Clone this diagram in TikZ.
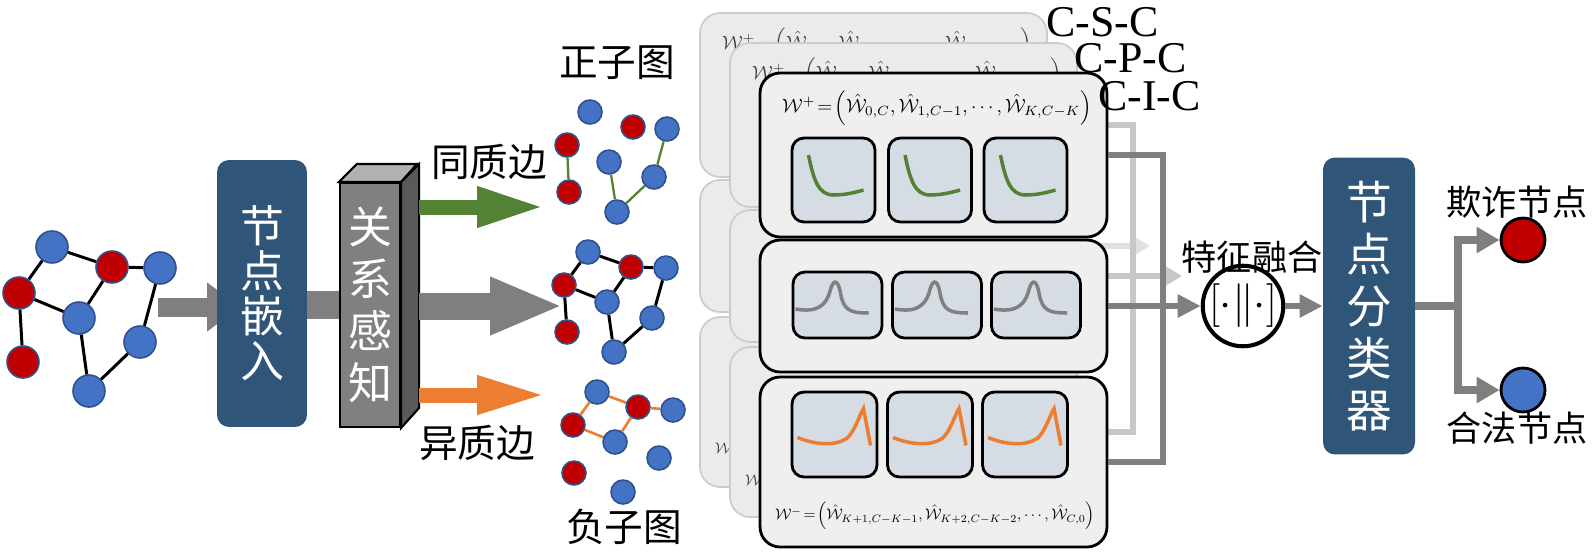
\documentclass[tikz,border=0pt]{standalone}
\usepackage{fontspec}
\usepackage{graphicx}
\usepackage{tikz}
\usetikzlibrary{arrows.meta,positioning,calc}
\usepackage{xcolor}

\newfontfamily\cjk{Noto Sans CJK SC}
\newfontfamily\tnr{Liberation Serif}

\definecolor{nodeblue}{HTML}{4472C4}
\definecolor{nodered}{HTML}{C00000}
\definecolor{rimblue}{HTML}{2F528F}
\definecolor{boxblue}{HTML}{2F5579}
\definecolor{arrgray}{HTML}{7F7F7F}
\definecolor{homgreen}{HTML}{548235}
\definecolor{hetorange}{HTML}{ED7D31}
\definecolor{panelgray}{HTML}{EFEFEF}
\definecolor{cellblue}{HTML}{D6DCE4}

\newcommand\homeq{\resizebox{6.2cm}{!}{$\mathcal{W}^{+}\!=\!\Big(\hat{\mathcal{W}}_{0,C},\hat{\mathcal{W}}_{1,C-1},\cdots,\hat{\mathcal{W}}_{K,C-K}\Big)$}}
\newcommand\heteq{\resizebox{6.4cm}{!}{$\mathcal{W}^{-}\!=\!\Big(\hat{\mathcal{W}}_{K+1,C-K-1},\hat{\mathcal{W}}_{K+2,C-K-2},\cdots,\hat{\mathcal{W}}_{C,0}\Big)$}}

\tikzset{
  bnode/.style={circle, draw=rimblue, line width=0.9pt, fill=nodeblue, inner sep=0pt, minimum size=0.48cm},
  rnode/.style={bnode, fill=nodered},
  bignode/.style={minimum size=0.64cm},
  gedge/.style={line width=1.7pt},
  posedge/.style={homgreen, line width=1.3pt},
  negedge/.style={hetorange, line width=1.5pt},
  bluebox/.style={rounded corners=0.24cm, fill=boxblue, text=white, align=center, inner sep=0pt},
  panel/.style={draw, line width=1.6pt, rounded corners=0.4cm, fill=panelgray, minimum width=6.94cm},
  backpanel/.style={draw=black!20, line width=1pt, rounded corners=0.4cm, fill=black!8, minimum width=6.94cm},
  cell/.style={draw, line width=1.6pt, rounded corners=0.24cm, fill=cellblue},
  homcell/.style={cell, minimum width=1.66cm, minimum height=1.68cm},
  mixcell/.style={cell, minimum width=1.78cm, minimum height=1.32cm},
  hetcell/.style={cell, minimum width=1.7cm, minimum height=1.7cm},
  homcurve/.style={homgreen, line width=2pt},
  mixcurve/.style={black!50, line width=2pt},
  hetcurve/.style={hetorange, line width=2pt},
  cjklab/.style={font=\cjk\fontsize{22}{22}\selectfont},
  smalllab/.style={font=\cjk\fontsize{20}{20}\selectfont},
  darkline/.style={arrgray, line width=0.13cm},
  darkarrow/.style={darkline, -{Triangle[length=0.46cm, width=0.44cm]}},
  lightline/.style={black!22, line width=0.13cm},
  lightarrow/.style={lightline, -{Triangle[length=0.36cm, width=0.4cm]}},
  outline/.style={arrgray, line width=0.16cm},
  outarrow/.style={outline, -{Triangle[length=0.46cm, width=0.5cm]}}
}

\begin{document}
\begin{tikzpicture}[x=0.02cm, y=-0.02cm, >=Stealth, font=\cjk]
  \useasboundingbox (0,0) rectangle (1594,555);

  % input graph
  \node (in1) [bnode, bignode] at (52,247) {};
  \node (in2) [rnode, bignode] at (112,267) {};
  \node (in3) [bnode, bignode] at (160,268) {};
  \node (in4) [rnode, bignode] at (19,293) {};
  \node (in5) [bnode, bignode] at (79,318) {};
  \node (in6) [bnode, bignode] at (140,342) {};
  \node (in7) [rnode, bignode] at (23,362) {};
  \node (in8) [bnode, bignode] at (89,391) {};
  \draw[gedge] (in1) -- (in2);
  \draw[gedge] (in1) -- (in4);
  \draw[gedge] (in2) -- (in3);
  \draw[gedge] (in2) -- (in5);
  \draw[gedge] (in4) -- (in5);
  \draw[gedge] (in4) -- (in7);
  \draw[gedge] (in5) -- (in8);
  \draw[gedge] (in8) -- (in6);
  \draw[gedge] (in6) -- (in3);

  % embedding and relation blocks
  \coordinate (gout) at (158,307);
  \coordinate (embtip) at (240,307);
  \draw[arrgray, line width=0.38cm, -{Triangle[length=0.66cm, width=0.94cm]}] (gout) -- (embtip);
  \node (embed) [bluebox, minimum width=1.8cm, minimum height=5.34cm, font=\cjk\fontsize{25}{25.6}\selectfont] at (262,293.5) {节\\点\\嵌\\入};
  \node (rel) [draw, line width=1.2pt, fill=black!50, text=white, align=center, inner sep=0pt, minimum width=1.2cm, minimum height=4.88cm, font=\cjk\fontsize{25}{29.6}\selectfont] at (370,305) {关\\系\\感\\知};
  \draw[arrgray, line width=0.56cm] (embed.east |- rel.west) -- (rel.west);
  \filldraw[fill=black!30, line width=1.2pt] (rel.north west) -- ++(18,-18) -- ++(60,0) -- (rel.north east) -- cycle;
  \filldraw[fill=black!65, line width=1.2pt] (rel.north east) -- ++(18,-18) -- ++(0,244) -- (rel.south east) -- cycle;

  % split arrows
  \coordinate (homtip) at (545,207);
  \coordinate (mixtip) at (563,306);
  \coordinate (hettip) at (547,395);
  \draw[homgreen, line width=0.3cm, -{Triangle[length=1.36cm, width=0.74cm]}] ($(rel.east |- homtip)+(18,0)$) -- (homtip);
  \draw[arrgray, line width=0.54cm, -{Triangle[length=1.46cm, width=1.06cm]}] ($(rel.east |- mixtip)+(18,0)$) -- (mixtip);
  \draw[hetorange, line width=0.3cm, -{Triangle[length=1.4cm, width=0.7cm]}] ($(rel.east |- hettip)+(18,0)$) -- (hettip);
  \node (homlab) [cjklab] at (489,162) {同质边};
  \node (hetlab) [cjklab] at (477,443) {异质边};

  % positive subgraph
  \node (poslab) [cjklab] at (617,63) {正子图};
  \node (pos1) [bnode] at (590,112) {};
  \node (pos2) [rnode] at (633,127) {};
  \node (pos3) [bnode] at (667,129) {};
  \node (pos4) [rnode] at (567,145) {};
  \node (pos5) [bnode] at (609,162) {};
  \node (pos6) [bnode] at (654,177) {};
  \node (pos7) [rnode] at (569,192) {};
  \node (pos8) [bnode] at (617,212) {};
  \draw[posedge] (pos4) -- (pos7);
  \draw[posedge] (pos5) -- (pos8);
  \draw[posedge] (pos8) -- (pos6);
  \draw[posedge] (pos6) -- (pos3);

  % full subgraph
  \node (mid1) [bnode] at (588,252) {};
  \node (mid2) [rnode] at (631,267) {};
  \node (mid3) [bnode] at (666,268) {};
  \node (mid4) [rnode] at (564,285) {};
  \node (mid5) [bnode] at (607,302) {};
  \node (mid6) [bnode] at (652,318) {};
  \node (mid7) [rnode] at (567,332) {};
  \node (mid8) [bnode] at (614,352) {};
  \draw[gedge] (mid1) -- (mid2);
  \draw[gedge] (mid1) -- (mid4);
  \draw[gedge] (mid2) -- (mid3);
  \draw[gedge] (mid2) -- (mid5);
  \draw[gedge] (mid4) -- (mid5);
  \draw[gedge] (mid4) -- (mid7);
  \draw[gedge] (mid5) -- (mid8);
  \draw[gedge] (mid8) -- (mid6);
  \draw[gedge] (mid6) -- (mid3);

  % negative subgraph
  \node (neg1) [bnode] at (597,392) {};
  \node (neg2) [rnode] at (638,407) {};
  \node (neg3) [bnode] at (673,410) {};
  \node (neg4) [rnode] at (573,425) {};
  \node (neg5) [bnode] at (615,442) {};
  \node (neg6) [bnode] at (659,458) {};
  \node (neg7) [rnode] at (574,473) {};
  \node (neg8) [bnode] at (623,492) {};
  \draw[negedge] (neg1) -- (neg2);
  \draw[negedge] (neg1) -- (neg4);
  \draw[negedge] (neg2) -- (neg3);
  \draw[negedge] (neg2) -- (neg5);
  \draw[negedge] (neg4) -- (neg5);
  \node (neglab) [cjklab] at (624,527) {负子图};

  % back layers (C-S-C, C-P-C)
  \node (hom60) [backpanel, minimum height=3.28cm] at (873.5,95) {};
  \node (mix60) [backpanel, minimum height=2.64cm] at (873.5,246) {};
  \node (het60) [backpanel, minimum height=3.4cm] at (873.5,402) {};
  \node (homeq60) [text=black!75] at (877,45) {\homeq};
  \node (heteq60) [text=black!75] at (875,450) {\heteq};
  \node (hom30) [backpanel, minimum height=3.28cm] at (903.5,125) {};
  \node (mix30) [backpanel, minimum height=2.64cm] at (903.5,276) {};
  \node (het30) [backpanel, minimum height=3.4cm] at (903.5,432) {};
  \node (homeq30) [text=black!75] at (907,75) {\homeq};
  \node (heteq30) [text=black!75] at (905,482) {\heteq};
  \coordinate (tip60) at (1150,246);
  \draw[lightarrow, black!12] (mix60.east) -- (tip60);
  \coordinate (jn30) at (1133,276);
  \coordinate (tip30) at (1182,276);
  \draw[lightline] (hom30.east) -| (jn30) |- (het30.east);
  \draw[lightarrow] (mix30.east) -- (tip30);

  % front layer (C-I-C)
  \node (hom) [panel, minimum height=3.28cm] at (933.5,155) {};
  \node (mix) [panel, minimum height=2.64cm] at (933.5,306) {};
  \node (het) [panel, minimum height=3.4cm] at (933.5,462) {};
  \node (homeq) at (937,108) {\homeq};
  \node (heteq) at (935,516) {\heteq};

  \node (hom1) [homcell] at (833.5,180) {};
  \node (hom2) [homcell] at (930,180) {};
  \node (hom3) [homcell] at (1025.5,180) {};
  \draw[homcurve, shift={(hom1.center)}] (-25,-25) .. controls (-20,0) and (-15,15) .. (0,15) .. controls (10,15) and (20,13) .. (30,10);
  \draw[homcurve, shift={(hom2.center)}] (-25,-25) .. controls (-20,0) and (-15,15) .. (0,15) .. controls (10,15) and (20,13) .. (30,10);
  \draw[homcurve, shift={(hom3.center)}] (-25,-25) .. controls (-20,0) and (-15,15) .. (0,15) .. controls (10,15) and (20,13) .. (30,10);

  \node (mix1) [mixcell] at (837.5,305) {};
  \node (mix2) [mixcell] at (937,305) {};
  \node (mix3) [mixcell] at (1036,305) {};
  \draw[mixcurve, shift={(mix1.center)}] (-42,4) .. controls (-20,8) and (-12,0) .. (-8,-12) .. controls (-5,-25) and (0,-28) .. (3,-12) .. controls (6,5) and (12,8) .. (31,8);
  \draw[mixcurve, shift={(mix2.center)}] (-42,4) .. controls (-20,8) and (-12,0) .. (-8,-12) .. controls (-5,-25) and (0,-28) .. (3,-12) .. controls (6,5) and (12,8) .. (31,8);
  \draw[mixcurve, shift={(mix3.center)}] (-42,4) .. controls (-20,8) and (-12,0) .. (-8,-12) .. controls (-5,-25) and (0,-28) .. (3,-12) .. controls (6,5) and (12,8) .. (31,8);

  \node (het1) [hetcell] at (834.5,434.5) {};
  \node (het2) [hetcell] at (930,434.5) {};
  \node (het3) [hetcell] at (1025,434.5) {};
  \draw[hetcurve, shift={(het1.center)}] (-37,3) .. controls (-20,10) and (0,12) .. (12,4) .. controls (20,-2) and (25,-20) .. (29,-26) -- (36,11);
  \draw[hetcurve, shift={(het2.center)}] (-37,3) .. controls (-20,10) and (0,12) .. (12,4) .. controls (20,-2) and (25,-20) .. (29,-26) -- (36,11);
  \draw[hetcurve, shift={(het3.center)}] (-37,3) .. controls (-20,10) and (0,12) .. (12,4) .. controls (20,-2) and (25,-20) .. (29,-26) -- (36,11);

  \node (csc) [anchor=west, font=\tnr\fontsize{25}{25}\selectfont] at (1040,22) {C-S-C};
  \node (cpc) [anchor=west, font=\tnr\fontsize{25}{25}\selectfont] at (1068,58) {C-P-C};
  \node (cic) [anchor=west, font=\tnr\fontsize{25}{25}\selectfont] at (1092,96) {C-I-C};

  % fusion and classifier
  \node (fuse) [circle, draw, line width=2.3pt, minimum size=1.12cm, inner sep=0pt, font=\fontsize{24}{24}\selectfont] at (1243,306) {$[\cdot\|\cdot]$};
  \node (fuselab) [smalllab] at (1252,257) {特征融合};
  \coordinate (jn) at (1163,306);
  \draw[darkline] (hom.east) -| (jn) |- (het.east);
  \draw[darkarrow] (mix.east) -- (fuse);

  \node (cls) [bluebox, minimum width=1.84cm, minimum height=5.94cm, font=\cjk\fontsize{26}{29.6}\selectfont] at (1369,306) {节\\点\\分\\类\\器};
  \draw[darkarrow] (fuse) -- (cls);

  \node (fraud) [circle, draw, line width=1.6pt, fill=nodered, minimum size=0.88cm] at (1523,240) {};
  \node (legit) [circle, draw, line width=1.6pt, fill=nodeblue, minimum size=0.88cm] at (1523,390) {};
  \node (fraudlab) [smalllab] at (1517,202) {欺诈节点};
  \node (legitlab) [smalllab] at (1517,428) {合法节点};
  \coordinate (split) at (1458,306);
  \draw[outline] (cls.east) -- (split);
  \draw[outarrow] (split) |- (fraud);
  \draw[outarrow] (split) |- (legit);
\end{tikzpicture}
\end{document}
